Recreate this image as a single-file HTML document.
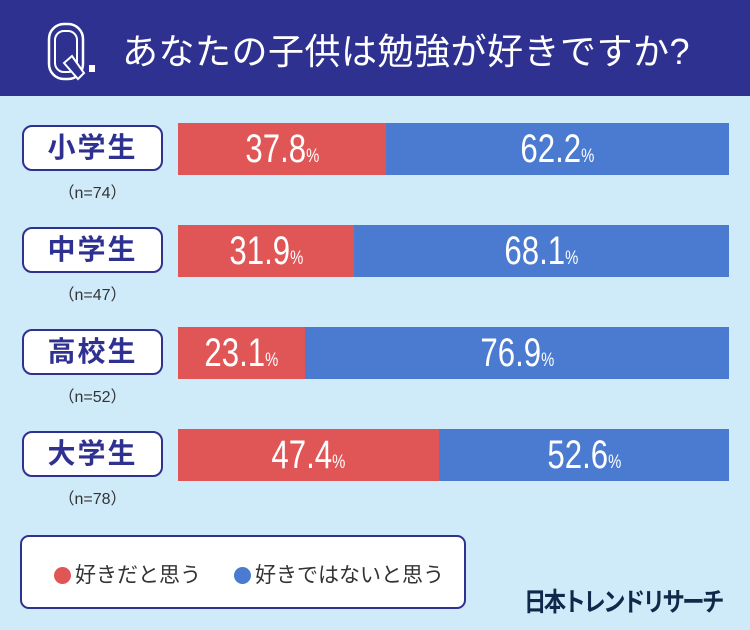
<!DOCTYPE html>
<html><head><meta charset="utf-8"><style>
*{margin:0;padding:0;box-sizing:border-box}
body{width:750px;height:630px;background:#cfeaf9;position:relative;overflow:hidden;font-family:"Liberation Sans","Noto Sans CJK JP",sans-serif}
#header{position:absolute;left:0;top:0;width:750px;height:96px;background:#2f3191}
#title{position:absolute;left:122px;top:23px;color:#fff;font-size:36px;white-space:nowrap;letter-spacing:0.5px}
.lab{position:absolute;left:22px;width:141px;height:46px;background:#fff;border:2px solid #2f3191;border-radius:10px;color:#2f3191;font-weight:bold;font-size:28px;text-align:center;line-height:42px;letter-spacing:2px}
.n{position:absolute;left:22px;width:141px;text-align:center;color:#333;font-size:16px}
.seg{position:absolute;height:52px}
.val{position:absolute;height:52px;color:#fff;font-size:40px;line-height:52px;text-align:center;white-space:nowrap}
.val span{display:inline-block;transform:scaleX(0.78)}
.val small{font-size:19px}
#legend{position:absolute;left:20px;top:535px;width:446px;height:74px;background:#fff;border:2px solid #2f3191;border-radius:9px}
.li{position:absolute;top:22px;font-size:21px;color:#333;white-space:nowrap}
.dot{display:inline-block;width:17px;height:17px;border-radius:50%;vertical-align:-2px;margin-right:4px}
#logo{position:absolute;left:524px;top:582px;font-size:26px;font-weight:bold;color:#10294a;white-space:nowrap;letter-spacing:-3px;transform-origin:left top;transform:scaleX(0.86)}
</style></head><body>
<div id="header">
<svg width="120" height="96" style="position:absolute;left:0;top:0">
<rect x="49" y="24" width="34" height="55" rx="15" fill="none" stroke="#fff" stroke-width="2.5"/>
<rect x="55" y="31" width="22" height="41" rx="9" fill="none" stroke="#fff" stroke-width="2"/>
<path d="M64 63 L72 56 L84 73 L78 79 Z" fill="#2f3191" stroke="#fff" stroke-width="2"/>
<rect x="89" y="65" width="6" height="7" fill="#fff"/>
</svg>
<div id="title">あなたの子供は勉強が好きですか?</div>
</div>
<div id="chart"></div>
<div id="legend">
<div class="li" style="left:32px"><span class="dot" style="background:#e05555"></span>好きだと思う</div>
<div class="li" style="left:212px"><span class="dot" style="background:#4a7bd0"></span>好きではないと思う</div>
</div>
<div id="logo">日本トレンドリサーチ</div>
<script>
const categories=["小学生","中学生","高校生","大学生"];
const sampleSizes=[74,47,52,78];
const likeValues=[37.8,31.9,23.1,47.4];
const dislikeValues=[62.2,68.1,76.9,52.6];
const X0=178,W=551,Y0=123,STEP=102;
function xs(v){return v/100*W;}
function ys(i){return Y0+i*STEP;}
const chart=document.getElementById('chart');
function mk(cls,name){const d=document.createElement('div');d.className=cls;


chart.appendChild(d);return d;}
categories.forEach((c,i)=>{
const y=ys(i);
const l=mk('lab','category-label');l.style.top=(y+2)+'px';l.textContent=c;
const n=mk('n','sample-size');n.style.top=(y+56)+'px';n.textContent='（n='+sampleSizes[i]+'）';
const w1=xs(likeValues[i]),w2=xs(dislikeValues[i]);
const r=mk('seg','bar-like');r.style.cssText+=`left:${X0}px;top:${y}px;width:${w1}px;background:#e05555`;
const b=mk('seg','bar-dislike');b.style.cssText+=`left:${X0+w1}px;top:${y}px;width:${w2}px;background:#4a7bd0`;
const v1=mk('val','value-like');v1.style.cssText+=`left:${X0}px;top:${y}px;width:${w1}px`;v1.innerHTML='<span>'+likeValues[i].toFixed(1)+'<small>%</small></span>';
const v2=mk('val','value-dislike');v2.style.cssText+=`left:${X0+w1}px;top:${y}px;width:${w2}px`;v2.innerHTML='<span>'+dislikeValues[i].toFixed(1)+'<small>%</small></span>';
});
</script>
</body></html>
